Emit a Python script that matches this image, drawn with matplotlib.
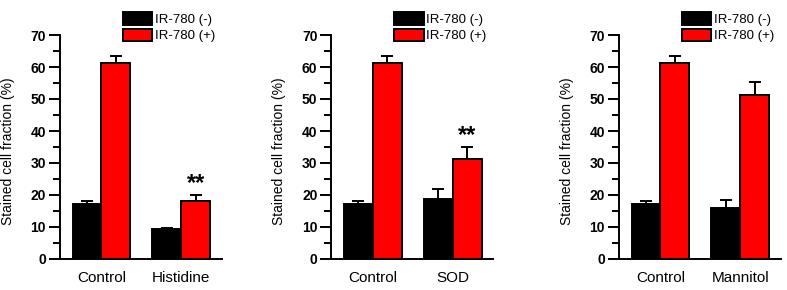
import numpy as np
import matplotlib
matplotlib.use("Agg")
import matplotlib.pyplot as plt

plt.rcParams['font.family'] = ['Liberation Sans', 'DejaVu Sans']

# data
treatments = ["Histidine", "SOD", "Mannitol"]
ctrl_neg, ctrl_neg_err = 17.1, 1.0
ctrl_pos, ctrl_pos_err = 61.3, 2.0
treat_neg = [9.5, 18.8, 15.9]
treat_neg_err = [0.3, 3.0, 2.6]
treat_pos = [18.2, 31.4, 51.1]
treat_pos_err = [1.8, 3.6, 4.3]
stars = ["**", "**", ""]
legend_labels = ["IR-780 (-)", "IR-780 (+)"]

W, H = 787, 290
fig = plt.figure(figsize=(W / 100, H / 100), dpi=100)

spine_x = [60, 331.3, 619]
ax_w = 162
y0_px, y70_px = 259, 35
bw = 0.3625

for i, name in enumerate(treatments):
    ax = fig.add_axes([spine_x[i] / W, 1 - y0_px / H, ax_w / W, (y0_px - y70_px) / H])
    centers = np.array([0, 1])
    neg = [ctrl_neg, treat_neg[i]]
    neg_err = [ctrl_neg_err, treat_neg_err[i]]
    pos = [ctrl_pos, treat_pos[i]]
    pos_err = [ctrl_pos_err, treat_pos_err[i]]

    for xs, vals, errs, col, lab in [(centers - bw / 2, neg, neg_err, 'black', legend_labels[0]),
                                     (centers + bw / 2, pos, pos_err, '#ff0000', legend_labels[1])]:
        ax.errorbar(xs, vals, yerr=[np.zeros(2), errs], fmt='none', ecolor='black',
                    elinewidth=1.4, capsize=4.6, capthick=1.4, zorder=1)
        ax.bar(xs, vals, width=bw, color=col, edgecolor='black', linewidth=1.4,
               label=lab, zorder=2)

    if stars[i]:
        ax.text(1 + bw / 2, treat_pos[i] + treat_pos_err[i] + 3.6, stars[i], ha='center',
                va='center', fontsize=17, fontweight='bold')

    ax.set_xlim(-0.52, 1.51)
    ax.set_ylim(0, 70)
    ax.set_yticks(np.arange(0, 71, 10))
    ax.set_yticks(np.arange(5, 70, 10), minor=True)
    ax.set_xticks(centers)
    ax.set_xticklabels(["Control", name], fontsize=11)
    ax.tick_params(axis='x', length=0, pad=9)
    ax.tick_params(axis='y', which='major', length=8, width=1.4, labelsize=10, pad=2)
    ax.tick_params(axis='y', which='minor', length=5, width=1.4)
    for t in ax.get_yticklabels():
        t.set_fontweight('bold')
    for s in ['top', 'right']:
        ax.spines[s].set_visible(False)
    for s in ['left', 'bottom']:
        ax.spines[s].set_linewidth(1.4)
    ax.set_ylabel("Stained cell fraction (%)", fontsize=10)
    ax.yaxis.set_label_coords(-45 / ax_w, 0.48)

    ax.legend(loc='upper left', bbox_to_anchor=(0.39, 1.101),
              frameon=False, fontsize=9.5, borderpad=0, borderaxespad=0,
              handlelength=2.2, handleheight=1.05, handletextpad=0.2, labelspacing=0.2)

fig.savefig("out.png", dpi=100)
